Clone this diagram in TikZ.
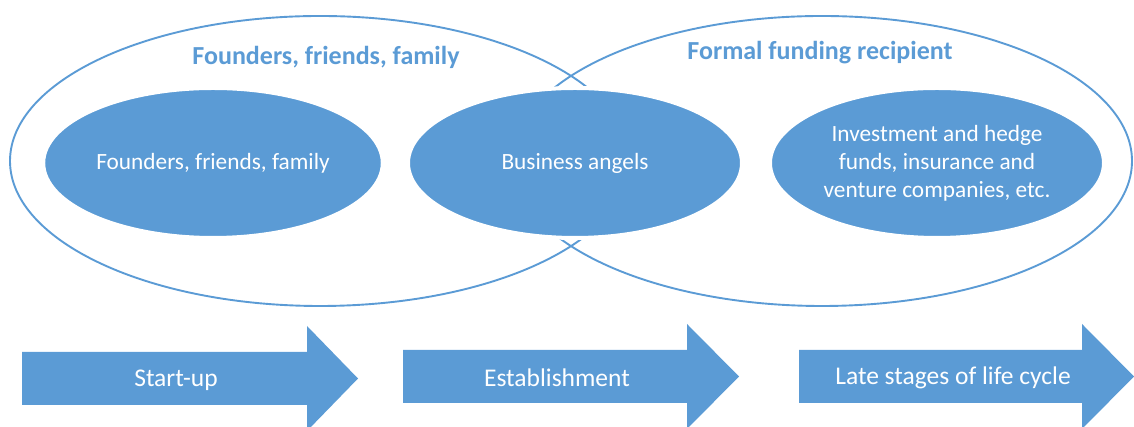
\documentclass[tikz,border=0pt]{standalone}
\usepackage{fontspec}
\setmainfont{Carlito}
\usetikzlibrary{shapes.geometric}
\definecolor{fundblue}{RGB}{91,155,213}

\begin{document}
\begin{tikzpicture}[x=1pt, y=1pt,
    outer/.style={ellipse, draw=fundblue, line width=1.9pt, minimum width=620pt, minimum height=290pt},
    source/.style={ellipse, fill=fundblue, draw=white, line width=4pt, minimum width=334pt, minimum height=150pt,
        text=white, align=center, font=\fontsize{23.3}{28}\selectfont},
    title/.style={text=fundblue, font=\bfseries\fontsize{26}{30}\selectfont},
    stage/.style={text=white, font=\fontsize{25.5}{30}\selectfont}]
    \useasboundingbox (0,0) rectangle (1134,427);

    % two groups of sources
    \node[outer] (informal) at (320,266) {};
    \node[outer] (formal) at (822,266) {};
    \node[title] (informaltitle) at (326,370) {Founders, friends, family};
    \node[title] (formaltitle) at (820,374) {Formal funding recipient};

    % sources of funding
    \node[source] (founders) at (213,264) {Founders, friends, family};
    \node[source] (angels) at (575,264) {Business angels};
    \node[source] (funds) at (937,264) {Investment and hedge\\funds, insurance and\\venture companies, etc.};

    % stages of the life cycle
    \fill[fundblue] (22,22) -- (307,22) -- (307,-4) -- (358,48.5) -- (307,101) -- (307,75) -- (22,75) -- cycle;
    \fill[fundblue] (403,24) -- (687,24) -- (687,-2) -- (739,50.5) -- (687,103) -- (687,77) -- (403,77) -- cycle;
    \fill[fundblue] (799,24) -- (1082,24) -- (1082,-2) -- (1134,50.5) -- (1082,103) -- (1082,77) -- (799,77) -- cycle;
    \node[stage] (startup) at (176,47) {Start-up};
    \node[stage] (establishment) at (557,49) {Establishment};
    \node[stage] (late) at (953,49) {Late stages of life cycle};
\end{tikzpicture}
\end{document}
